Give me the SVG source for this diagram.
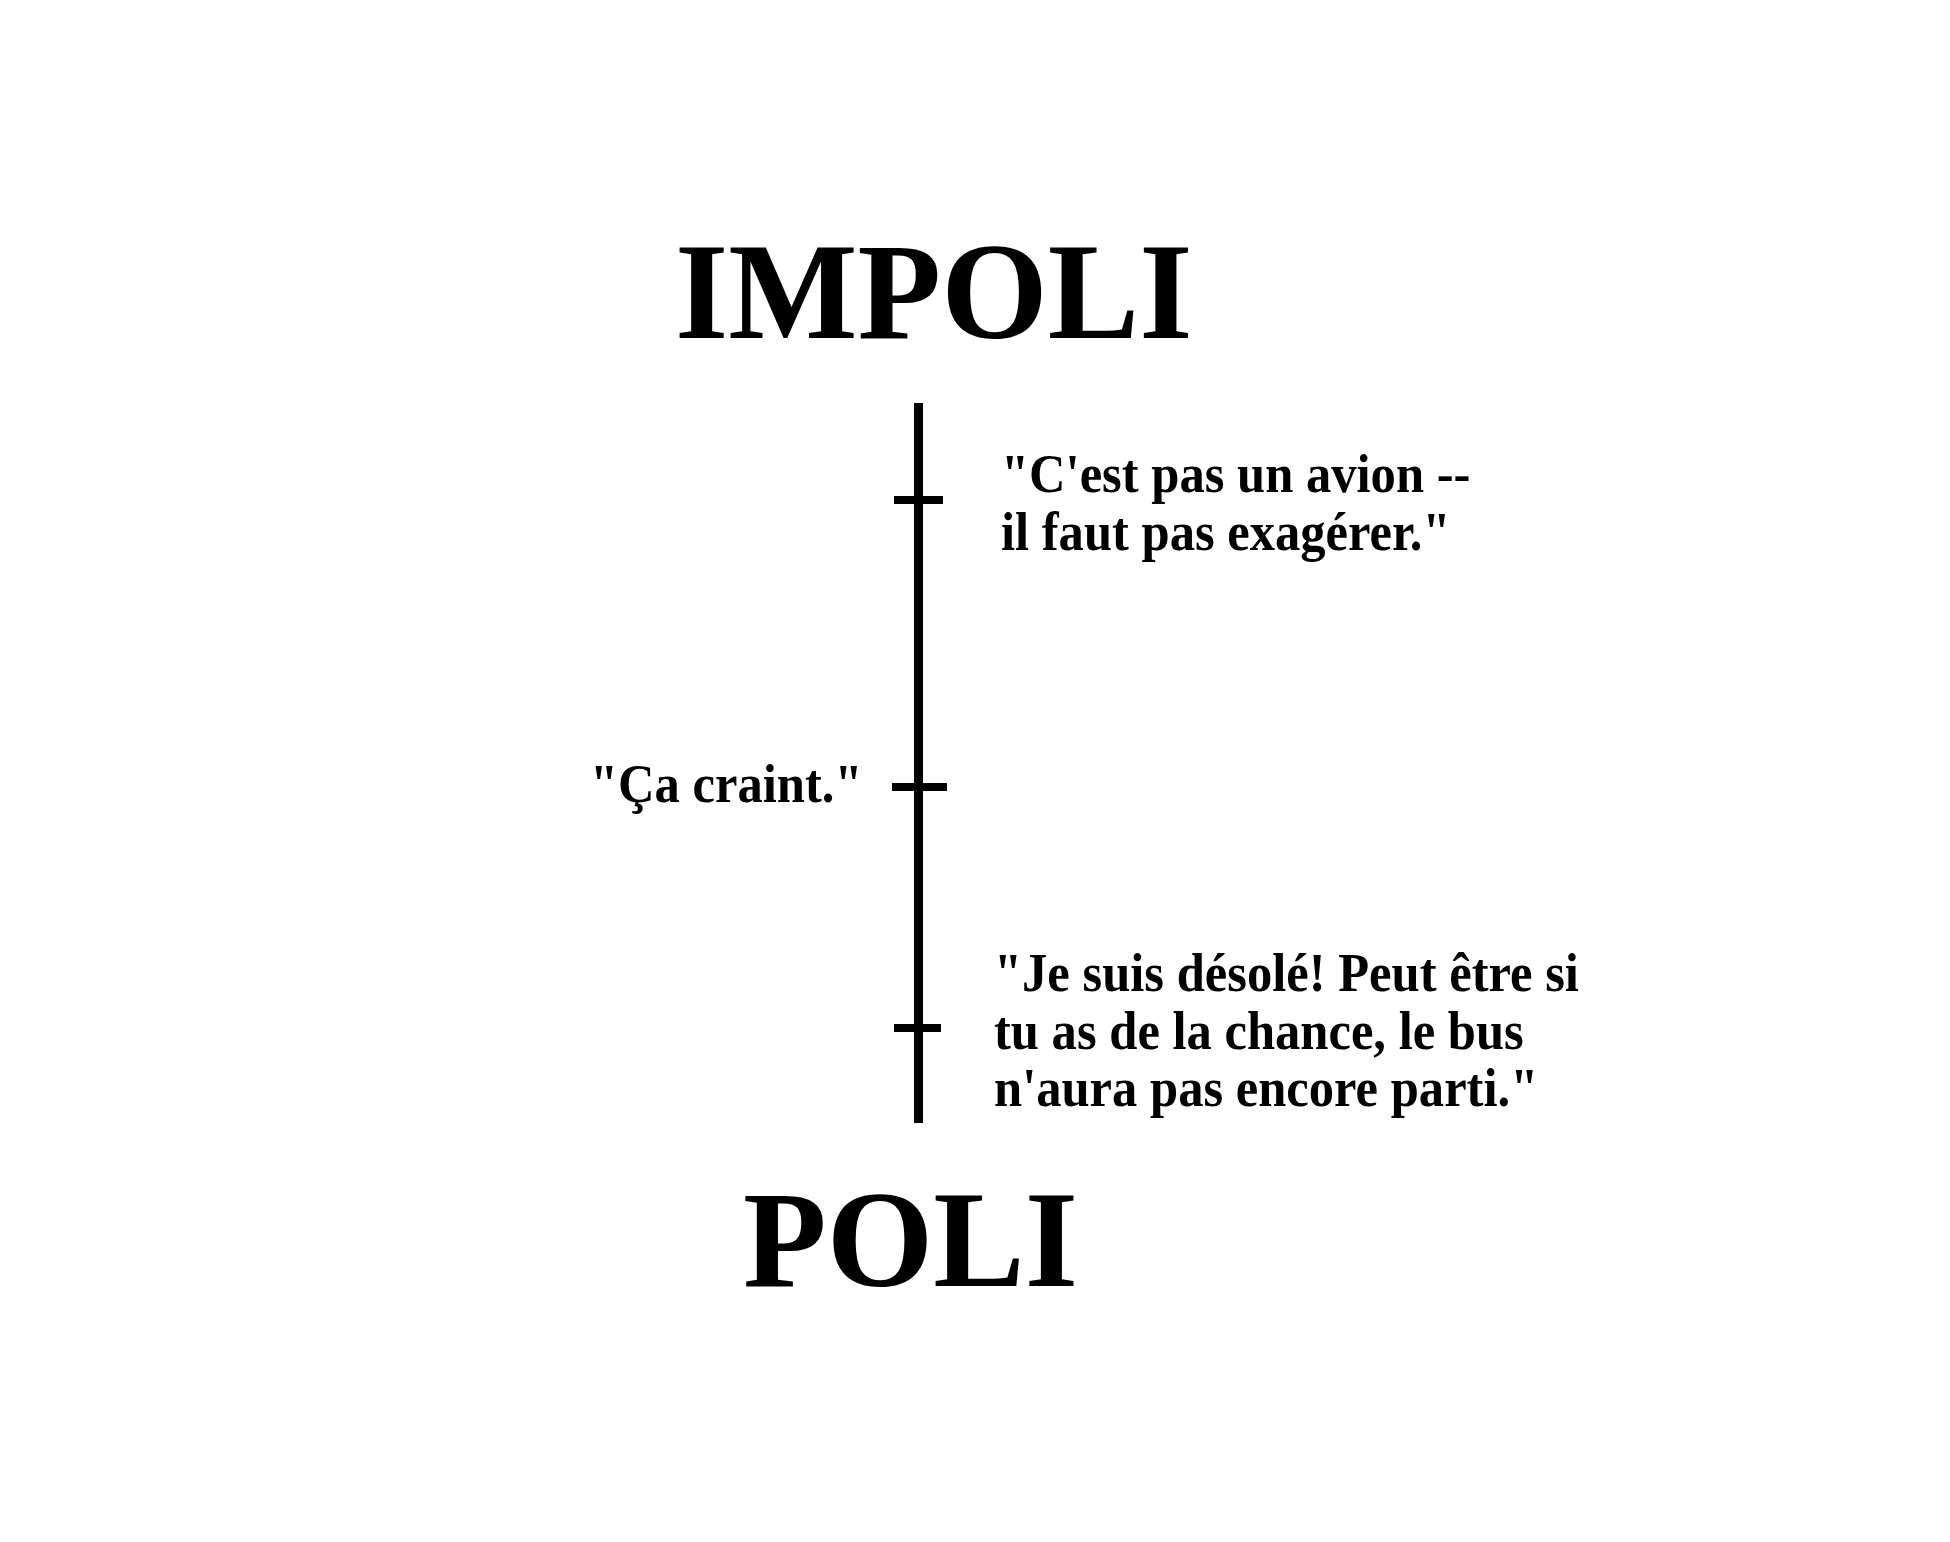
<svg xmlns="http://www.w3.org/2000/svg" width="1950" height="1542" viewBox="0 0 1950 1542">
<style>
.title{font-family:"Liberation Serif","Times New Roman",serif;font-weight:bold;font-size:137px;fill:#000}
.lbl{font-family:"Liberation Serif","Times New Roman",serif;font-weight:bold;font-size:55px;fill:#000}
.axis{stroke:#000;stroke-width:9;fill:none}
.tick{stroke:#000;stroke-width:8;fill:none}
</style>
<rect width="1950" height="1542" fill="#fff"/>
<g id="impoli"><text class="title" x="675" y="338">IMPOLI</text></g>
<g id="poli"><text class="title" x="743" y="1286">POLI</text></g>
<g id="connectors">
<line class="axis" x1="918.5" y1="403" x2="918.5" y2="1123"/>
<line class="tick" x1="894" y1="500" x2="943" y2="500"/>
<line class="tick" x1="892" y1="787" x2="947" y2="787"/>
<line class="tick" x1="894" y1="1028" x2="941" y2="1028"/>
</g>
<g id="label-avion">
<text class="lbl" transform="translate(1001,492) scale(0.92,1)">"C'est pas un avion --</text>
<text class="lbl" transform="translate(1001,550) scale(0.92,1)">il faut pas exagérer."</text>
</g>
<g id="label-craint"><text class="lbl" transform="translate(590,802) scale(0.92,1)">"Ça craint."</text></g>
<g id="label-desole">
<text class="lbl" transform="translate(994,991) scale(0.92,1)">"Je suis désolé! Peut être si</text>
<text class="lbl" transform="translate(994,1049) scale(0.92,1)">tu as de la chance, le bus</text>
<text class="lbl" transform="translate(994,1106) scale(0.92,1)">n'aura pas encore parti."</text>
</g>
</svg>
